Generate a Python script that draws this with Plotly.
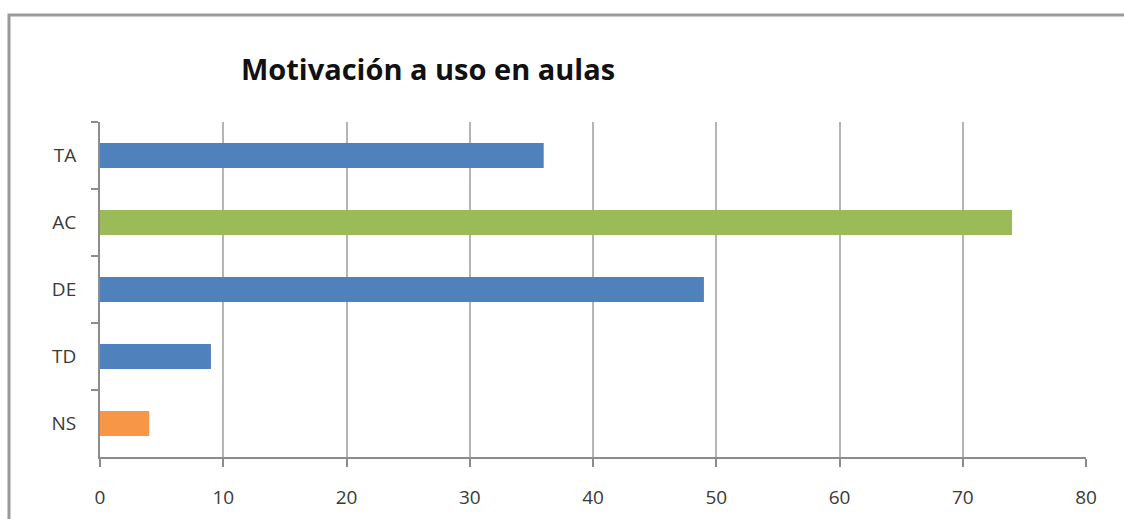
import plotly.graph_objects as go

categories = ["TA", "AC", "DE", "TD", "NS"]
values = [36, 74, 49, 9, 4]
colors = ["#4F81BD", "#9BBB59", "#4F81BD", "#4F81BD", "#F79646"]
x_ticks = [0, 10, 20, 30, 40, 50, 60, 70, 80]

W, H = 1124, 519
L, R, T, B = 100, 38, 122, 62
pw, ph = W - L - R, H - T - B

def px_x(px):
    return (px - L) / pw

def px_y(py):
    return (H - B - py) / ph

fig = go.Figure(go.Bar(
    x=values, y=categories, orientation="h",
    marker=dict(color=colors, line=dict(width=0)),
    width=0.37,
))

fig.update_layout(
    width=W, height=H,
    margin=dict(l=L, r=R, t=T, b=B, autoexpand=False),
    paper_bgcolor="white", plot_bgcolor="white",
    showlegend=False,
    title=dict(text="<b>Motivación a uso en aulas</b>", x=428 / W, xref="container", xanchor="center",
               y=1 - 70 / H, yref="container", yanchor="middle",
               font=dict(family="Open Sans, Lato, sans-serif", size=29, color="#111")),
    font=dict(family="Open Sans, Lato, sans-serif", size=19, color="#3A3A3A"),
    xaxis=dict(range=[0, 80], tickvals=x_ticks, showgrid=True, gridcolor="#B5B5B5", gridwidth=2,
               showline=True, linecolor="#8C8C8C", linewidth=2, ticks="outside", ticklen=8,
               tickcolor="#8C8C8C", tickwidth=2, zeroline=False, fixedrange=True,
               ticklabelstandoff=14),
    yaxis=dict(categoryorder="array", categoryarray=categories, autorange="reversed",
               showline=True, linecolor="#8C8C8C", linewidth=2, ticks="outside", ticklen=7,
               tickcolor="#8C8C8C", tickwidth=2, tickson="boundaries", showgrid=False,
               ticklabelstandoff=18, fixedrange=True),
)

# outer chart border (left and top edges visible; the rest is cropped in the reference)
fig.add_shape(type="path", xref="paper", yref="paper",
              path=f"M {px_x(9)},{px_y(560)} L {px_x(9)},{px_y(15)} L {px_x(1200)},{px_y(15)}",
              line=dict(color="#9A9A9A", width=3), layer="below")

fig.write_html("out.html", config={"displayModeBar": False},
               post_script="document.body.style.margin='0';document.body.style.overflow='hidden';")
